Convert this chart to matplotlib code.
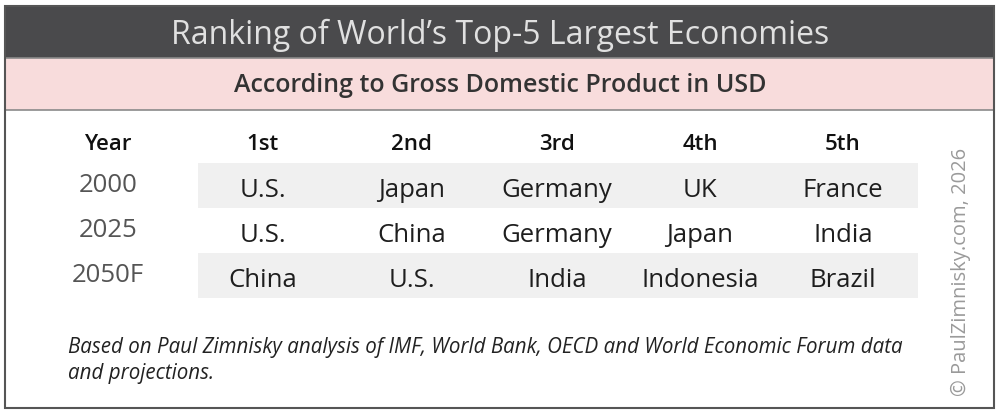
import matplotlib
matplotlib.use("Agg")
import matplotlib.pyplot as plt
from matplotlib.patches import Rectangle

# Table content
title = "Ranking of World\u2019s Top-5 Largest Economies"
subtitle = "According to Gross Domestic Product in USD"
header = ["Year", "1st", "2nd", "3rd", "4th", "5th"]
years = ["2000", "2025", "2050F"]
ranks = [
    ["U.S.", "Japan", "Germany", "UK", "France"],
    ["U.S.", "China", "Germany", "Japan", "India"],
    ["China", "U.S.", "India", "Indonesia", "Brazil"],
]
note = ["Based on Paul Zimnisky analysis of IMF, World Bank, OECD and World Economic Forum data",
        "and projections."]
credit = "\u00a9 PaulZimnisky.com, 2026"

plt.rcParams['font.family'] = ['Open Sans', 'DejaVu Sans']

fig = plt.figure(figsize=(10, 4.16), dpi=100)
ax = fig.add_axes([0, 0, 1, 1])
ax.set_xlim(0, 1000)
ax.set_ylim(416, 0)
ax.axis('off')

# frame and bands
ax.add_patch(Rectangle((5, 6), 989, 52, facecolor='#4a4a4c', edgecolor='none'))
ax.add_patch(Rectangle((5, 58), 989, 52, facecolor='#f8dcdc', edgecolor='#8a8a8a', lw=1.2))
ax.add_patch(Rectangle((5, 6), 989, 402, facecolor='none', edgecolor='#555555', lw=1.5))

ax.text(500, 44, title, ha='center', va='baseline', fontsize=23, color='#e0e0e0')
ax.text(500, 92, subtitle, ha='center', va='baseline', fontsize=18, color='#333333',
        fontweight='semibold')

col_x = [108, 263, 412, 557, 700, 843]
head_base = 150
row_base = [197, 242, 287]

for i in range(len(years)):
    if i % 2 == 0:
        ax.add_patch(Rectangle((198, row_base[i] - 34), 720, 45,
                               facecolor='#f0f0f0', edgecolor='none'))

for x, h in zip(col_x, header):
    ax.text(x, head_base, h, ha='center', va='baseline', fontsize=16, color='#111111',
            fontweight='semibold')

for i, (yr, row) in enumerate(zip(years, ranks)):
    ax.text(col_x[0], row_base[i] - 5, yr, ha='center', va='baseline', fontsize=18.5,
            color='#555555')
    for x, c in zip(col_x[1:], row):
        ax.text(x, row_base[i], c, ha='center', va='baseline', fontsize=18.5, color='#1e1e1e')

for k, line in enumerate(note):
    ax.text(68, 353 + 26 * k, line, ha='left', va='baseline', fontsize=14.8, style='italic',
            color='#222222')

ax.text(961, 272, credit, ha='center', va='center', rotation=90, fontsize=14.5,
        color='#9a9a9a')

fig.savefig("out.png", dpi=100)
